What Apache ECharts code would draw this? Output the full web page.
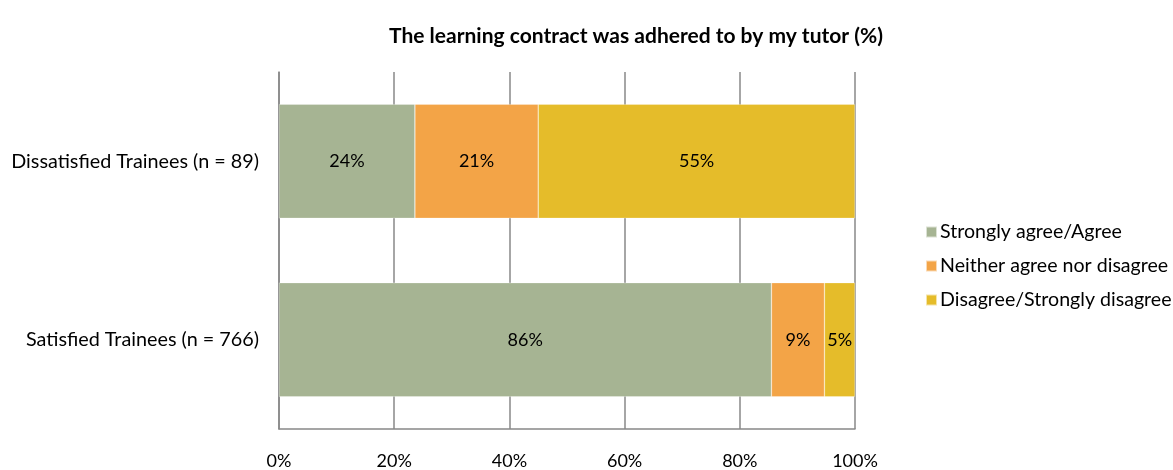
<!DOCTYPE html>
<html>
<head>
<meta charset="utf-8">
<script src="https://cdn.jsdelivr.net/npm/echarts@6/dist/echarts.min.js"></script>
<style>
  html, body { margin: 0; padding: 0; background: #fff; }
  #chart { width: 1173px; height: 470px; }
</style>
</head>
<body>
<div id="chart"></div>
<script>
// categories bottom to top (ECharts category axis goes upward)
let groups = ["Satisfied Trainees (n = 766)", "Dissatisfied Trainees (n = 89)"]
let seriesNames = ["Strongly agree/Agree", "Neither agree nor disagree", "Disagree/Strongly disagree"]
let agree = [85.5, 23.6]
let neither = [9.2, 21.4]
let disagree = [5.3, 55.0]
let xTicks = [0, 20, 40, 60, 80, 100]

let colors = ["#A6B493", "#F3A447", "#E5BC2A"]
let font = "Lato, 'Open Sans', sans-serif"

let chartDom = document.getElementById("chart")
let myChart = echarts.init(chartDom)

function makeSeries(name, values, color) {
    return {
        name: name,
        type: "bar",
        stack: "total",
        barWidth: "64%",
        data: values,
        itemStyle: {
            color: color,
            borderColor: "rgba(255,255,255,0.6)",
            borderWidth: 0.5
        },
        label: {
            show: true,
            position: "inside",
            color: "#000",
            fontFamily: font,
            fontSize: 18,
            formatter: p => Math.round(p.value) + "%"
        }
    }
}

let option = {
    animation: false,
    title: {
        text: "The learning contract was adhered to by my tutor (%)",
        left: 631,
        textAlign: "center",
        top: 21,
        textStyle: {
            fontFamily: font,
            fontSize: 21,
            fontWeight: "bold",
            color: "#000"
        }
    },
    legend: {
        orient: "vertical",
        left: 920,
        top: 217,
        itemWidth: 11,
        itemHeight: 11,
        itemGap: 14,
        icon: "rect",
        data: seriesNames,
        textStyle: {
            fontFamily: font,
            fontSize: 19.6,
            color: "#000",
            padding: [0, 0, 0, -2]
        }
    },
    grid: {
        left: 279,
        right: 1173 - 855,
        top: 72,
        bottom: 470 - 433,
        containLabel: false
    },
    xAxis: {
        type: "value",
        min: 0,
        max: 100,
        interval: 20,
        axisLine: { show: true, lineStyle: { color: "#888", width: 1.5 } },
        axisTick: { show: false },
        splitLine: { show: true, lineStyle: { color: "#888", width: 1.5 } },
        axisLabel: {
            color: "#000",
            fontFamily: font,
            fontSize: 18,
            margin: 23,
            formatter: v => xTicks.includes(v) ? v + "%" : ""
        }
    },
    yAxis: {
        type: "category",
        data: groups,
        axisLine: { show: true, lineStyle: { color: "#888", width: 1.5 } },
        axisTick: { show: false },
        axisLabel: {
            color: "#000",
            fontFamily: font,
            fontSize: 19.8,
            margin: 20
        }
    },
    series: [
        makeSeries(seriesNames[0], agree, colors[0]),
        makeSeries(seriesNames[1], neither, colors[1]),
        makeSeries(seriesNames[2], disagree, colors[2])
    ]
}

option && myChart.setOption(option)
</script>
</body>
</html>
